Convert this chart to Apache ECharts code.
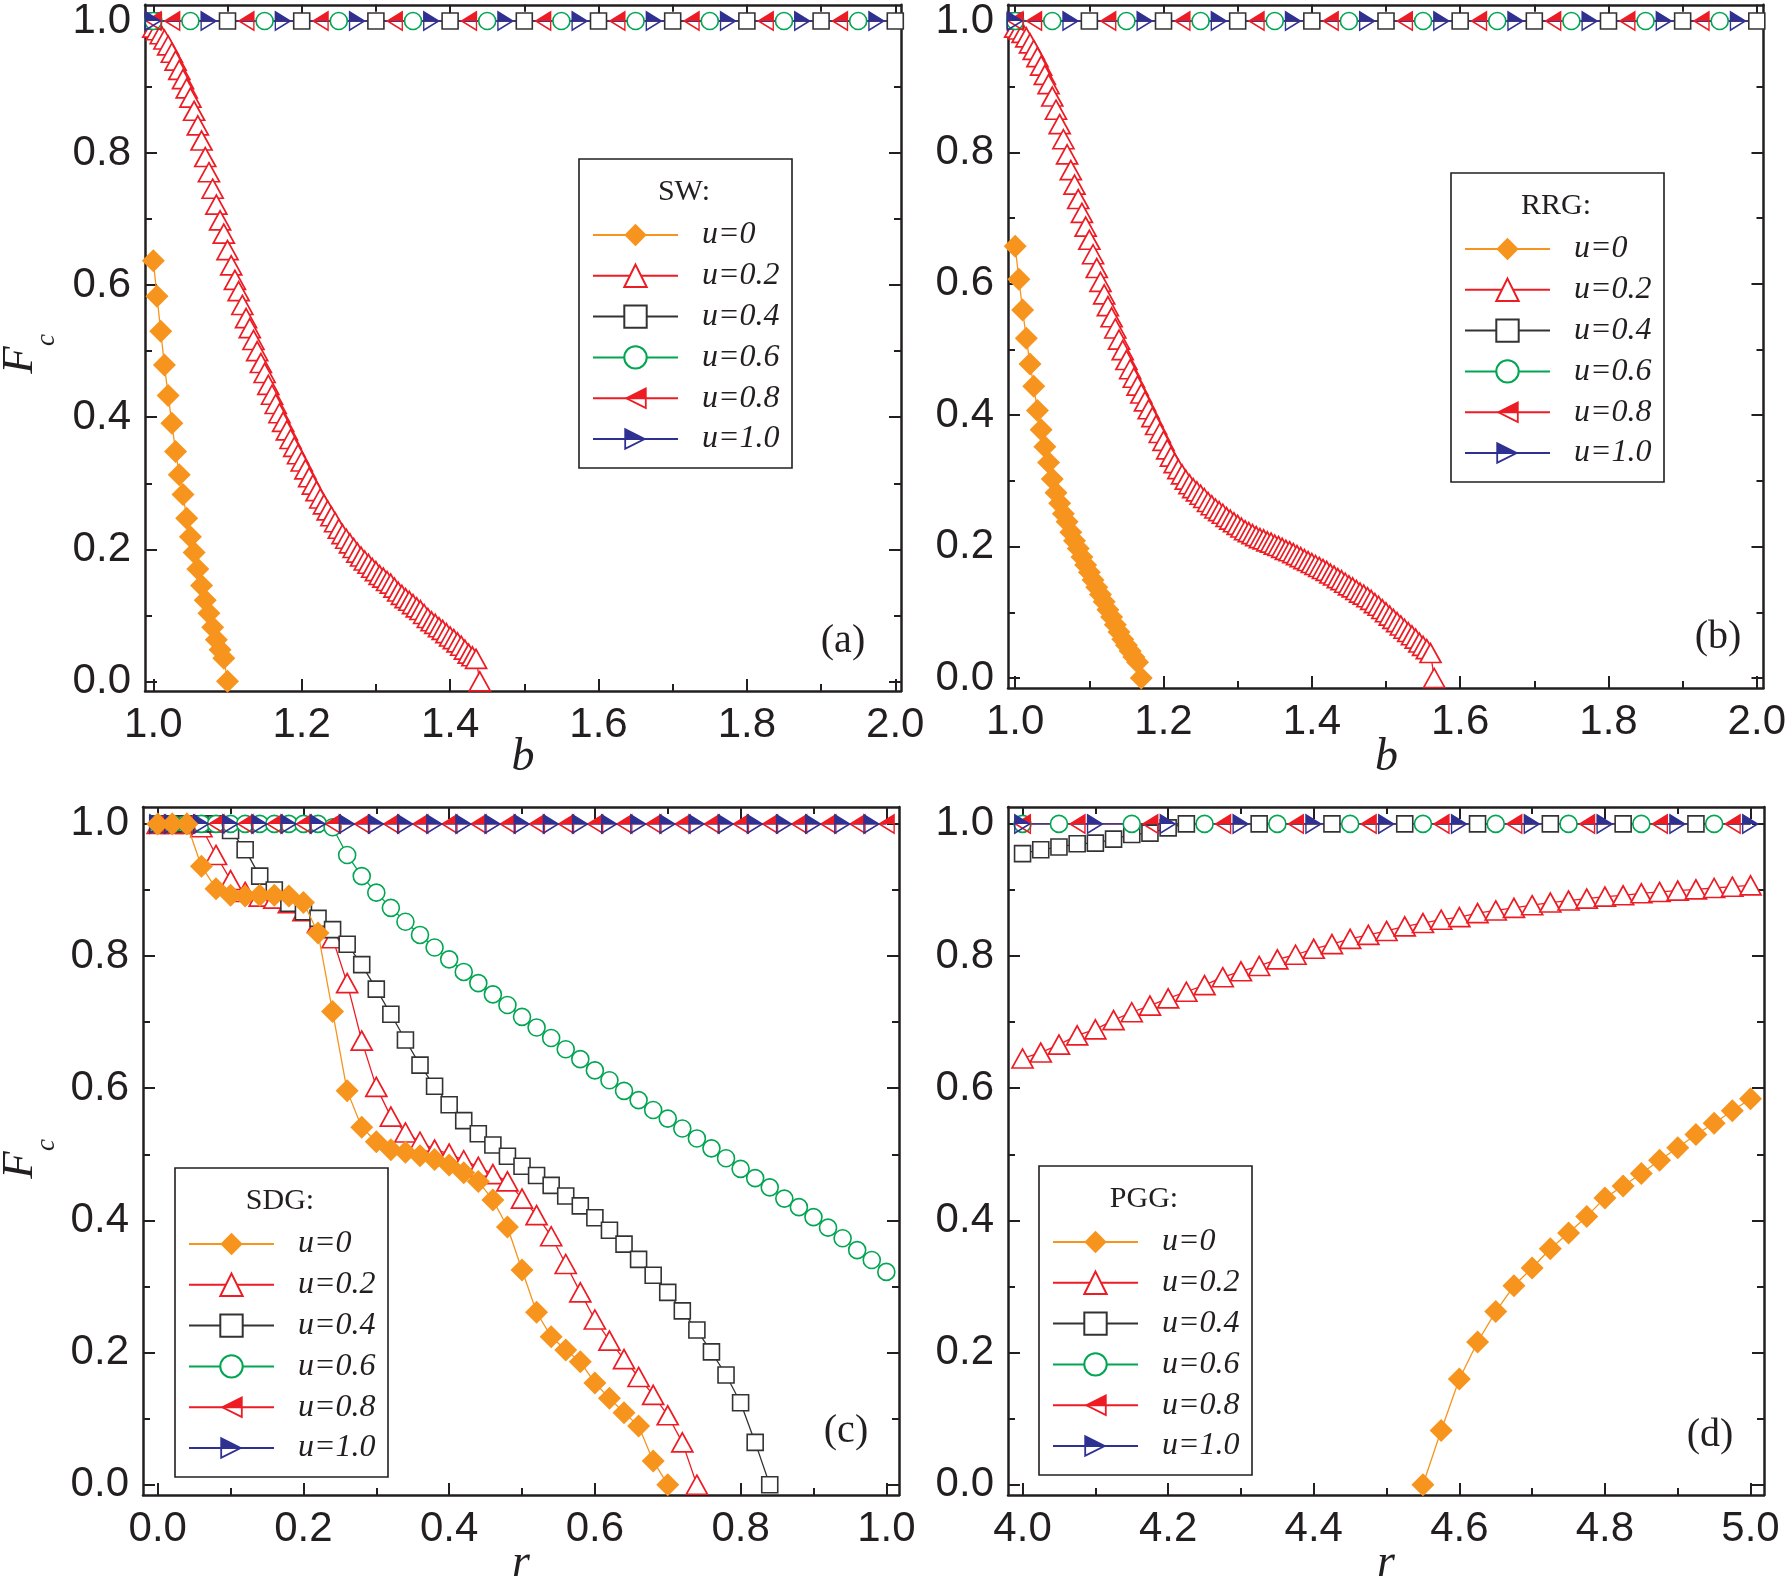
<!DOCTYPE html>
<html>
<head>
<meta charset="utf-8">
<title>Fc panels</title>
<script src="https://cdn.jsdelivr.net/npm/echarts@6/dist/echarts.min.js"></script>
<style>
  html, body { margin: 0; padding: 0; background: #fff; }
  #main { width: 1789px; height: 1585px; }
</style>
</head>
<body>
<div id="main"></div>
<script>
(function () {
  const NAMES = ['u=0', 'u=0.2', 'u=0.4', 'u=0.6', 'u=0.8', 'u=1.0'];
  const TITLES = ['SW:', 'RRG:', 'SDG:', 'PGG:'];
  const TAGS = ['(a)', '(b)', '(c)', '(d)'];

  // tick labels
  const yMajor = [0.0, 0.2, 0.4, 0.6, 0.8, 1.0];
  const yMinor = [0.1, 0.3, 0.5, 0.7, 0.9];
  const bMajor = [1.0, 1.2, 1.4, 1.6, 1.8, 2.0];
  const bMinor = [1.1, 1.3, 1.5, 1.7, 1.9];
  const rMajorSDG = [0.0, 0.2, 0.4, 0.6, 0.8, 1.0];
  const rMinorSDG = [0.1, 0.3, 0.5, 0.7, 0.9];
  const rMajorPGG = [4.0, 4.2, 4.4, 4.6, 4.8, 5.0];
  const rMinorPGG = [4.1, 4.3, 4.5, 4.7, 4.9];

  // level of the fully cooperative curves
  const FLAT = 1.0;

  // (a) SW
  const swU0 = [[1.000,0.637],[1.005,0.583],[1.010,0.530],[1.015,0.479],[1.020,0.433],[1.025,0.391],[1.030,0.348],
    [1.035,0.313],[1.040,0.283],[1.045,0.247],[1.050,0.219],[1.055,0.195],[1.060,0.170],[1.065,0.145],[1.070,0.123],
    [1.075,0.103],[1.080,0.082],[1.085,0.063],[1.090,0.048],[1.095,0.035],[1.100,0.000]];
  const swU02 = [[1.000,0.990],[1.005,0.986],[1.010,0.980],[1.015,0.972],[1.020,0.963],[1.025,0.952],[1.030,0.940],
    [1.035,0.926],[1.040,0.912],[1.045,0.898],[1.050,0.884],[1.055,0.864],[1.060,0.842],[1.065,0.819],[1.070,0.794],
    [1.075,0.771],[1.080,0.746],[1.085,0.722],[1.090,0.698],[1.095,0.678],[1.100,0.653],[1.105,0.630],[1.110,0.608],
    [1.115,0.591],[1.120,0.570],[1.125,0.550],[1.130,0.535],[1.135,0.517],[1.140,0.500],[1.145,0.482],[1.150,0.467],
    [1.155,0.449],[1.160,0.434],[1.165,0.420],[1.170,0.406],[1.175,0.393],[1.180,0.380],[1.185,0.367],[1.190,0.355],
    [1.195,0.344],[1.200,0.333],[1.205,0.321],[1.210,0.309],[1.215,0.298],[1.220,0.288],[1.225,0.277],[1.230,0.268],
    [1.235,0.259],[1.240,0.250],[1.245,0.241],[1.250,0.231],[1.255,0.223],[1.260,0.216],[1.265,0.209],[1.270,0.202],
    [1.275,0.195],[1.280,0.189],[1.285,0.183],[1.290,0.178],[1.295,0.172],[1.300,0.167],[1.305,0.161],[1.310,0.157],
    [1.315,0.152],[1.320,0.148],[1.325,0.142],[1.330,0.136],[1.335,0.131],[1.340,0.126],[1.345,0.122],[1.350,0.117],
    [1.355,0.112],[1.360,0.108],[1.365,0.102],[1.370,0.096],[1.375,0.091],[1.380,0.087],[1.385,0.082],[1.390,0.078],
    [1.395,0.073],[1.400,0.068],[1.405,0.064],[1.410,0.059],[1.415,0.054],[1.420,0.048],[1.425,0.042],[1.430,0.038],
    [1.435,0.034],[1.440,0.000]];
  // (a),(b) flat curves: x positions of their markers
  const bSq = [1.0, 1.1, 1.2, 1.3, 1.4, 1.5, 1.6, 1.7, 1.8, 1.9, 2.0];
  const bCi = [1.0, 1.05, 1.15, 1.25, 1.35, 1.45, 1.55, 1.65, 1.75, 1.85, 1.95];
  const bLt = [1.0, 1.025, 1.125, 1.225, 1.325, 1.425, 1.525, 1.625, 1.725, 1.825, 1.925];
  const bRt = [1.0, 1.075, 1.175, 1.275, 1.375, 1.475, 1.575, 1.675, 1.775, 1.875, 1.975];

  // (b) RRG
  const rrgU0 = [[1.000,0.657],[1.005,0.607],[1.010,0.560],[1.015,0.517],[1.020,0.478],[1.025,0.444],[1.030,0.407],
    [1.035,0.378],[1.040,0.352],[1.045,0.328],[1.050,0.303],[1.055,0.282],[1.060,0.266],[1.065,0.250],[1.070,0.238],
    [1.075,0.222],[1.080,0.209],[1.085,0.197],[1.090,0.184],[1.095,0.172],[1.100,0.161],[1.105,0.149],[1.110,0.138],
    [1.115,0.127],[1.120,0.116],[1.125,0.104],[1.130,0.093],[1.135,0.081],[1.140,0.070],[1.145,0.059],[1.150,0.050],
    [1.155,0.041],[1.160,0.032],[1.165,0.024],[1.170,0.000]];
  const rrgU02 = [[1.000,0.990],[1.005,0.987],[1.010,0.982],[1.015,0.975],[1.020,0.966],[1.025,0.956],[1.030,0.945],
    [1.035,0.932],[1.040,0.918],[1.045,0.904],[1.050,0.885],[1.055,0.865],[1.060,0.843],[1.065,0.820],[1.070,0.797],
    [1.075,0.773],[1.080,0.751],[1.085,0.729],[1.090,0.708],[1.095,0.687],[1.100,0.667],[1.105,0.645],[1.110,0.624],
    [1.115,0.603],[1.120,0.584],[1.125,0.566],[1.130,0.549],[1.135,0.532],[1.140,0.515],[1.145,0.499],[1.150,0.484],
    [1.155,0.470],[1.160,0.457],[1.165,0.445],[1.170,0.433],[1.175,0.421],[1.180,0.409],[1.185,0.397],[1.190,0.385],
    [1.195,0.373],[1.200,0.361],[1.205,0.348],[1.210,0.337],[1.215,0.327],[1.220,0.318],[1.225,0.310],[1.230,0.302],
    [1.235,0.295],[1.240,0.289],[1.245,0.284],[1.250,0.279],[1.255,0.274],[1.260,0.268],[1.265,0.263],[1.270,0.258],
    [1.275,0.254],[1.280,0.250],[1.285,0.245],[1.290,0.241],[1.295,0.237],[1.300,0.233],[1.305,0.229],[1.310,0.225],
    [1.315,0.222],[1.320,0.219],[1.325,0.216],[1.330,0.213],[1.335,0.211],[1.340,0.208],[1.345,0.206],[1.350,0.203],
    [1.355,0.201],[1.360,0.198],[1.365,0.195],[1.370,0.193],[1.375,0.190],[1.380,0.187],[1.385,0.184],[1.390,0.181],
    [1.395,0.178],[1.400,0.175],[1.405,0.172],[1.410,0.169],[1.415,0.166],[1.420,0.163],[1.425,0.159],[1.430,0.156],
    [1.435,0.152],[1.440,0.149],[1.445,0.145],[1.450,0.141],[1.455,0.138],[1.460,0.134],[1.465,0.130],[1.470,0.127],
    [1.475,0.123],[1.480,0.119],[1.485,0.114],[1.490,0.110],[1.495,0.105],[1.500,0.100],[1.505,0.095],[1.510,0.090],
    [1.515,0.085],[1.520,0.080],[1.525,0.075],[1.530,0.070],[1.535,0.065],[1.540,0.060],[1.545,0.054],[1.550,0.049],
    [1.555,0.044],[1.560,0.038],[1.565,0.000]];

  // (c) SDG
  const sdgU0 = [[0.00,1.000],[0.02,1.000],[0.04,1.000],[0.06,0.936],[0.08,0.902],[0.10,0.892],[0.12,0.891],[0.14,0.892],
    [0.16,0.892],[0.18,0.891],[0.20,0.881],[0.22,0.835],[0.24,0.716],[0.26,0.596],[0.28,0.541],[0.30,0.519],[0.32,0.507],
    [0.34,0.503],[0.36,0.498],[0.38,0.492],[0.40,0.484],[0.42,0.472],[0.44,0.459],[0.46,0.431],[0.48,0.390],[0.50,0.325],
    [0.52,0.261],[0.54,0.224],[0.56,0.204],[0.58,0.186],[0.60,0.154],[0.62,0.131],[0.64,0.109],[0.66,0.089],[0.68,0.036],
    [0.70,0.000]];
  const sdgU02 = [[0.00,1.000],[0.02,1.000],[0.04,1.000],[0.06,0.995],[0.08,0.953],[0.10,0.915],[0.12,0.897],[0.14,0.890],
    [0.16,0.887],[0.18,0.880],[0.20,0.868],[0.22,0.850],[0.24,0.827],[0.26,0.759],[0.28,0.672],[0.30,0.602],[0.32,0.557],
    [0.34,0.533],[0.36,0.519],[0.38,0.507],[0.40,0.501],[0.42,0.491],[0.44,0.481],[0.46,0.470],[0.48,0.459],[0.50,0.433],
    [0.52,0.408],[0.54,0.376],[0.56,0.334],[0.58,0.291],[0.60,0.250],[0.62,0.218],[0.64,0.190],[0.66,0.163],[0.68,0.136],
    [0.70,0.105],[0.72,0.064],[0.74,0.000]];
  const sdgU04 = [[0.00,1.000],[0.02,1.000],[0.04,1.000],[0.06,1.000],[0.08,1.000],[0.10,0.990],[0.12,0.961],[0.14,0.921],
    [0.16,0.900],[0.18,0.880],[0.20,0.867],[0.22,0.857],[0.24,0.840],[0.26,0.818],[0.28,0.787],[0.30,0.750],[0.32,0.712],
    [0.34,0.673],[0.36,0.635],[0.38,0.603],[0.40,0.575],[0.42,0.551],[0.44,0.531],[0.46,0.514],[0.48,0.497],[0.50,0.482],
    [0.52,0.468],[0.54,0.453],[0.56,0.437],[0.58,0.422],[0.60,0.404],[0.62,0.385],[0.64,0.364],[0.66,0.341],[0.68,0.317],
    [0.70,0.291],[0.72,0.263],[0.74,0.234],[0.76,0.201],[0.78,0.166],[0.80,0.124],[0.82,0.064],[0.84,0.000]];
  const sdgU06 = [[0.00,1.000],[0.02,1.000],[0.04,1.000],[0.06,1.000],[0.08,1.000],[0.10,1.000],[0.12,1.000],[0.14,1.000],
    [0.16,1.000],[0.18,1.000],[0.20,1.000],[0.22,1.000],[0.24,0.995],[0.26,0.953],[0.28,0.921],[0.30,0.896],[0.32,0.873],
    [0.34,0.852],[0.36,0.832],[0.38,0.813],[0.40,0.795],[0.42,0.776],[0.44,0.759],[0.46,0.742],[0.48,0.726],[0.50,0.708],
    [0.52,0.692],[0.54,0.676],[0.56,0.659],[0.58,0.644],[0.60,0.627],[0.62,0.612],[0.64,0.596],[0.66,0.582],[0.68,0.567],
    [0.70,0.554],[0.72,0.539],[0.74,0.524],[0.76,0.509],[0.78,0.494],[0.80,0.478],[0.82,0.464],[0.84,0.450],[0.86,0.433],
    [0.88,0.420],[0.90,0.405],[0.92,0.389],[0.94,0.373],[0.96,0.355],[0.98,0.340],[1.00,0.322]];
  const sdgLt = [0.00, 0.04, 0.08, 0.12, 0.16, 0.20, 0.24, 0.28, 0.32, 0.36, 0.40, 0.44, 0.48, 0.52, 0.56, 0.60,
    0.64, 0.68, 0.72, 0.76, 0.80, 0.84, 0.88, 0.92, 0.96, 1.00];
  const sdgRt = [0.00, 0.02, 0.06, 0.10, 0.14, 0.18, 0.22, 0.26, 0.30, 0.34, 0.38, 0.42, 0.46, 0.50, 0.54, 0.58,
    0.62, 0.66, 0.70, 0.74, 0.78, 0.82, 0.86, 0.90, 0.94, 0.98];

  // (d) PGG
  const pggU0 = [[4.550,0.000],[4.575,0.082],[4.600,0.160],[4.625,0.216],[4.650,0.262],[4.675,0.301],[4.700,0.328],
    [4.725,0.357],[4.750,0.381],[4.775,0.406],[4.800,0.434],[4.825,0.452],[4.850,0.471],[4.875,0.491],[4.900,0.510],
    [4.925,0.530],[4.950,0.547],[4.975,0.566],[5.000,0.584]];
  const pggU02 = [[4.000,0.645],[4.025,0.654],[4.050,0.666],[4.075,0.680],[4.100,0.689],[4.125,0.703],[4.150,0.715],
    [4.175,0.725],[4.200,0.736],[4.225,0.746],[4.250,0.756],[4.275,0.768],[4.300,0.777],[4.325,0.785],[4.350,0.795],
    [4.375,0.802],[4.400,0.811],[4.425,0.818],[4.450,0.826],[4.475,0.832],[4.500,0.838],[4.525,0.845],[4.550,0.850],
    [4.575,0.855],[4.600,0.859],[4.625,0.865],[4.650,0.869],[4.675,0.873],[4.700,0.877],[4.725,0.881],[4.750,0.884],
    [4.775,0.887],[4.800,0.890],[4.825,0.892],[4.850,0.895],[4.875,0.897],[4.900,0.899],[4.925,0.901],[4.950,0.903],
    [4.975,0.905],[5.000,0.907]];
  const pggU04 = [[4.000,0.955],[4.025,0.961],[4.050,0.965],[4.075,0.970],[4.100,0.971],[4.125,0.977],[4.150,0.984],
    [4.175,0.986],[4.200,0.994],[4.225,1.000],[4.325,1.000],[4.425,1.000],[4.525,1.000],[4.625,1.000],[4.725,1.000],
    [4.825,1.000],[4.925,1.000]];
  const pggCi = [4.0, 4.05, 4.15, 4.25, 4.35, 4.45, 4.55, 4.65, 4.75, 4.85, 4.95];
  const pggLt = [4.0, 4.075, 4.175, 4.275, 4.375, 4.475, 4.575, 4.675, 4.775, 4.875, 4.975];
  const pggRt = [4.0, 4.1, 4.2, 4.3, 4.4, 4.5, 4.6, 4.7, 4.8, 4.9, 5.0];

  const INK = '#231F20';
  const ORANGE = '#F7941D';
  const RED = '#ED1C24';
  const GREEN = '#00A651';
  const BLUE = '#2E3192';

  // half filled triangles (upper half solid, lower half outlined)
  const LEFT_TRI = 'path://M0,50L100,0L100,50Z M0,50L100,50L100,100Z M17.9,50L92,87.1L92,50Z';
  const RIGHT_TRI = 'path://M100,50L0,0L0,50Z M100,50L0,50L0,100Z M82.1,50L8,87.1L8,50Z';

  const STY = {
    'u=0':   { symbol: 'diamond', symbolSize: 23, itemStyle: { color: ORANGE }, lineStyle: { color: ORANGE, width: 1.3 }, z: 4 },
    'u=0.2': { symbol: 'triangle', symbolSize: [21, 19], itemStyle: { color: '#fff', borderColor: RED, borderWidth: 1.7 }, lineStyle: { color: RED, width: 1.3 }, z: 2 },
    'u=0.4': { symbol: 'rect', symbolSize: 16, itemStyle: { color: '#fff', borderColor: '#333', borderWidth: 1.6 }, lineStyle: { color: '#333', width: 1.3 }, z: 2 },
    'u=0.6': { symbol: 'circle', symbolSize: 17, itemStyle: { color: '#fff', borderColor: GREEN, borderWidth: 1.6 }, lineStyle: { color: GREEN, width: 1.3 }, z: 2 },
    'u=0.8': { symbol: LEFT_TRI, symbolSize: [17, 21], itemStyle: { color: RED }, lineStyle: { color: RED, width: 1.3 }, z: 2 },
    'u=1.0': { symbol: RIGHT_TRI, symbolSize: [17, 21], itemStyle: { color: BLUE }, lineStyle: { color: BLUE, width: 1.3 }, z: 2 }
  };

  function flat(xs, end) {
    const d = xs.map(function (x) { return [x, FLAT]; });
    if (end != null) d.push({ value: [end, FLAT], symbol: 'none' });
    return d;
  }

  const panels = [
    { grid: { left: 145, top: 2, width: 756, height: 689 }, xr: [0.9888, 2.0077], yr: [-0.0146, 1.0246],
      xMaj: bMajor, xMin: bMinor,
      data: [swU0, swU02, flat(bSq), flat(bCi, 2.0), flat(bLt, 2.0), flat(bRt, 2.0)],
      box: [579, 159], tag: [843, 641], name: 'b', nameY: 758 },
    { grid: { left: 1008, top: 2, width: 757, height: 686 }, xr: [0.9903, 2.009], yr: [-0.0152, 1.0247],
      xMaj: bMajor, xMin: bMinor,
      data: [rrgU0, rrgU02, flat(bSq), flat(bCi, 2.0), flat(bLt, 2.0), flat(bRt, 2.0)],
      box: [1451, 173], tag: [1718, 637], name: 'b', nameY: 758 },
    { grid: { left: 143, top: 807, width: 756, height: 688 }, xr: [-0.0202, 1.0174], yr: [-0.0156, 1.0256],
      xMaj: rMajorSDG, xMin: rMinorSDG,
      data: [sdgU0, sdgU02, sdgU04, sdgU06, flat(sdgLt), flat(sdgRt, 1.0)],
      box: [175, 1168], tag: [846, 1431], name: 'r', nameY: 1564 },
    { grid: { left: 1008, top: 807, width: 756, height: 688 }, xr: [3.980, 5.0185], yr: [-0.0156, 1.0256],
      xMaj: rMajorPGG, xMin: rMinorPGG,
      data: [pggU0, pggU02, pggU04.concat([{ value: [5.0, FLAT], symbol: 'none' }]), flat(pggCi, 5.0), flat(pggLt, 5.0), flat(pggRt)],
      box: [1039, 1166], tag: [1710, 1435], name: 'r', nameY: 1564 }
  ];

  const fmt = function (v) { return v.toFixed(1); };
  const tickLine = { color: INK, width: 2 };
  const borderLine = { show: true, onZero: false, lineStyle: { color: INK, width: 2.5 } };
  const labelStyle = { fontSize: 42, fontFamily: 'Liberation Sans', color: INK };

  const xAxes = [], yAxes = [], series = [], legends = [], gfx = [];
  const BOX_W = 213, BOX_H = 309;

  panels.forEach(function (p, g) {
    const bx = { type: 'value', gridIndex: g, min: p.xr[0], max: p.xr[1], splitLine: { show: false },
      axisLine: { show: false, onZero: false }, axisLabel: { show: false }, axisTick: { show: false } };
    const by = { type: 'value', gridIndex: g, min: p.yr[0], max: p.yr[1], splitLine: { show: false },
      axisLine: { show: false, onZero: false }, axisLabel: { show: false }, axisTick: { show: false } };

    xAxes.push(
      Object.assign({}, bx, { position: 'bottom', axisLine: borderLine,
        axisTick: { show: true, inside: true, length: 12, customValues: p.xMaj, lineStyle: tickLine },
        axisLabel: Object.assign({ show: true, customValues: p.xMaj, formatter: fmt, margin: 13 }, labelStyle) }),
      Object.assign({}, bx, { position: 'bottom',
        axisTick: { show: true, inside: true, length: 7, customValues: p.xMin, lineStyle: tickLine } }),
      Object.assign({}, bx, { position: 'top', axisLine: borderLine,
        axisTick: { show: true, inside: true, length: 12, customValues: p.xMaj, lineStyle: tickLine } }),
      Object.assign({}, bx, { position: 'top',
        axisTick: { show: true, inside: true, length: 7, customValues: p.xMin, lineStyle: tickLine } })
    );
    yAxes.push(
      Object.assign({}, by, { position: 'left', axisLine: borderLine,
        axisTick: { show: true, inside: true, length: 12, customValues: yMajor, lineStyle: tickLine },
        axisLabel: Object.assign({ show: true, customValues: yMajor, formatter: fmt, margin: 14 }, labelStyle) }),
      Object.assign({}, by, { position: 'left',
        axisTick: { show: true, inside: true, length: 7, customValues: yMinor, lineStyle: tickLine } }),
      Object.assign({}, by, { position: 'right', axisLine: borderLine,
        axisTick: { show: true, inside: true, length: 12, customValues: yMajor, lineStyle: tickLine } }),
      Object.assign({}, by, { position: 'right',
        axisTick: { show: true, inside: true, length: 7, customValues: yMinor, lineStyle: tickLine } })
    );

    // draw order: u=0.2 ... u=1.0, then u=0 on top
    [1, 2, 3, 4, 5, 0].forEach(function (k) {
      const name = NAMES[k];
      series.push(Object.assign({
        type: 'line', name: name, xAxisIndex: 4 * g, yAxisIndex: 4 * g,
        data: p.data[k], showSymbol: true, showAllSymbol: true, animation: false, silent: true
      }, STY[name]));
    });

    legends.push({
      orient: 'vertical', left: p.box[0] + 13, top: p.box[1] + 60, padding: 0,
      itemWidth: 85, itemHeight: 28, itemGap: 8.8, selectedMode: false, data: NAMES,
      textStyle: { fontFamily: 'Liberation Serif', fontStyle: 'italic', fontSize: 32, color: INK,
        lineHeight: 26, padding: [0, 0, 0, 19] }
    });

    gfx.push({ type: 'rect', shape: { x: p.box[0], y: p.box[1], width: BOX_W, height: BOX_H },
      style: { fill: 'none', stroke: INK, lineWidth: 1.6 }, silent: true });
    gfx.push({ type: 'text', x: p.box[0] + 105, y: p.box[1] + 33, silent: true,
      style: { text: TITLES[g], fontFamily: 'Liberation Serif', fontSize: 30, fill: INK,
        align: 'center', verticalAlign: 'middle', textAlign: 'center', textVerticalAlign: 'middle' } });
    gfx.push({ type: 'text', x: p.tag[0], y: p.tag[1], silent: true,
      style: { text: TAGS[g], fontFamily: 'Liberation Serif', fontSize: 40, fill: INK,
        align: 'center', verticalAlign: 'middle', textAlign: 'center', textVerticalAlign: 'middle' } });
    gfx.push({ type: 'text', x: p.grid.left + p.grid.width / 2, y: p.nameY, silent: true,
      style: { text: p.name, fontFamily: 'Liberation Serif', fontStyle: 'italic', fontSize: 46, fill: INK,
        align: 'center', verticalAlign: 'middle', textAlign: 'center', textVerticalAlign: 'middle' } });
  });

  // y axis name F_c on the left panels
  [360, 1165].forEach(function (cy) {
    gfx.push({ type: 'text', x: 20, y: cy, rotation: Math.PI / 2, silent: true,
      style: { text: 'F', fontFamily: 'Liberation Serif', fontStyle: 'italic', fontSize: 45, fill: INK,
        align: 'center', verticalAlign: 'middle', textAlign: 'center', textVerticalAlign: 'middle' } });
    gfx.push({ type: 'text', x: 47, y: cy - 20, rotation: Math.PI / 2, silent: true,
      style: { text: 'c', fontFamily: 'Liberation Serif', fontStyle: 'italic', fontSize: 27, fill: INK,
        align: 'center', verticalAlign: 'middle', textAlign: 'center', textVerticalAlign: 'middle' } });
  });

  const myChart = echarts.init(document.getElementById('main'));
  myChart.setOption({
    backgroundColor: '#fff',
    animation: false,
    grid: panels.map(function (p) { return Object.assign({ containLabel: false }, p.grid); }),
    xAxis: xAxes,
    yAxis: yAxes,
    legend: legends,
    graphic: { elements: gfx },
    series: series
  });
})();
</script>
</body>
</html>
